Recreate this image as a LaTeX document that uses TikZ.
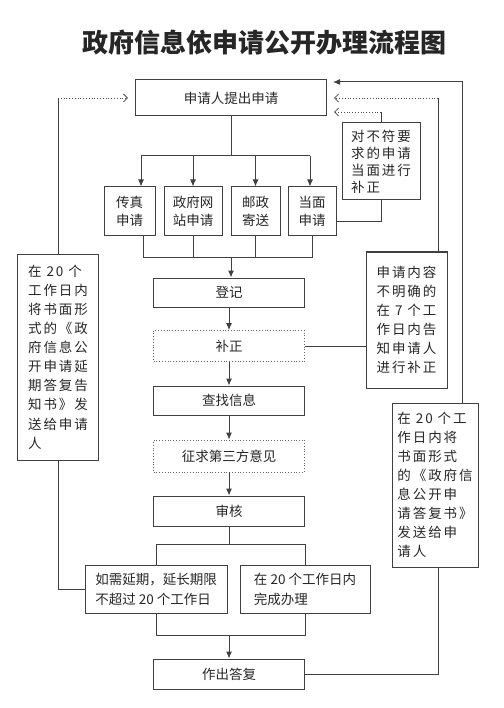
\documentclass[tikz,border=0pt]{standalone}
\usepackage{fontspec}
\setmainfont{Noto Sans CJK SC}
\newfontfamily\spaced[LetterSpace=14]{Noto Sans CJK SC}
\usetikzlibrary{arrows.meta}
\begin{document}
\begin{tikzpicture}[x=1pt,y=-1pt,
  every node/.style={inner sep=0pt, text=black!85},
  box/.style 2 args={draw=black!75, line width=1pt, minimum width=#1, minimum height=#2,
      font=\fontsize{13.5}{18}\selectfont, align=center},
  dbox/.style 2 args={draw=black!60, dotted, line width=0.8pt, minimum width=#1, minimum height=#2,
      font=\fontsize{13.5}{18}\selectfont, align=center},
  tall/.style={font=\spaced\fontsize{13.5}{19.1}\selectfont, align=left},
  ln/.style={draw=black!75, line width=1pt},
  arr/.style={ln, -{Latex[length=7pt,width=6pt]}},
  dotarr/.style={draw=black!70, dotted, line width=0.8pt, -{Straight Barb[length=4pt,width=8pt,line width=0.8pt]}, shorten >=7pt},
  solarr/.style={ln, -{Latex[length=7pt,width=6pt]}, shorten >=6pt}
]
\useasboundingbox (0,0) rectangle (503,708);

% title
\node[font=\fontsize{26}{26}\selectfont\bfseries] (title) at (264.5,43) {政府信息依申请公开办理流程图};

% top
\node[box={191pt}{36pt}] (apply) at (231,98) {申请人提出申请};
\node[box={51pt}{49pt}] (fax) at (129.5,211.5) {传真\\申请};
\node[box={58pt}{49pt}] (web) at (193,211.5) {政府网\\站申请};
\node[box={49pt}{49pt}] (post) at (255.5,211.5) {邮政\\寄送};
\node[box={48pt}{49pt}] (face) at (312,211.5) {当面\\申请};
\node[box={78pt}{77pt}, font=\spaced\fontsize{13.5}{17}\selectfont, align=left] (fix1) at (381,161.5) {对不符要\\求的申请\\当面进行\\补正};

% main column
\node[box={151pt}{29pt}] (reg) at (229,292.5) {登记};
\node[dbox={151pt}{31pt}] (bz) at (229,346) {补正};
\node[box={151pt}{29pt}] (find) at (229,400.5) {查找信息};
\node[dbox={151pt}{32pt}] (third) at (229,456) {征求第三方意见};
\node[box={151pt}{30pt}] (audit) at (229,511) {审核};
\node[box={142pt}{48pt}, font=\fontsize{13.5}{20}\selectfont, align=left] (ext) at (156,589) {如需延期，延长期限\\不超过 20 个工作日};
\node[box={130pt}{48pt}, font=\fontsize{13.5}{20}\selectfont, align=left] (done) at (305,589) {在 20 个工作日内\\完成办理};
\node[box={151pt}{30pt}] (reply) at (229,674) {作出答复};

% side boxes
\node[box={81pt}{206pt}, tall] (left) at (58,357) {在 20 个\\工作日内\\将书面形\\式的《政\\府信息公\\开申请延\\期答复告\\知书》发\\送给申请\\人};
\node[box={81pt}{136pt}, tall] (unclear) at (406.5,320) {申请内容\\不明确的\\在 7 个工\\作日内告\\知申请人\\进行补正};
\node[box={86pt}{164pt}, tall] (rlow) at (435,485) {在 20 个工\\作日内将\\书面形式\\的《政府信\\息公开申\\请答复书》\\发送给申\\请人};

% coordinates
\coordinate (bus) at (231,156);
\coordinate (fa) at ([xshift=11.5pt]fax.north);
\coordinate (fb) at ([xshift=13.5pt]fax.south);
\coordinate (fc) at ([xshift=-2pt]face.north);
\coordinate (j1) at (231,257);
\coordinate (j2) at (231,544);
\coordinate (j3) at (229,635);
\coordinate (ux) at (438,0);
\coordinate (rx) at (462,0);
\coordinate (a1) at ([yshift=16pt]apply.east);
\coordinate (a3) at ([yshift=-14pt]apply.east);

% top fan-out
\draw[ln] (apply.south) -- (bus);
\draw[ln] (fa |- bus) -- (fc |- bus);
\draw[arr] (fa |- bus) -- (fa);
\draw[arr] (web.north |- bus) -- (web.north);
\draw[arr] (post.north |- bus) -- (post.north);
\draw[arr] (fc |- bus) -- (fc);

% fan-in
\draw[ln] (fb) -- (fb |- j1) -- (face.south |- j1) -- (face.south);
\draw[ln] (web.south) -- (web.south |- j1);
\draw[ln] (post.south) -- (post.south |- j1);
\draw[arr] (j1) -- (j1 |- reg.north);

% main chain
\draw[arr] (reg.south) -- (bz.north);
\draw[arr] (bz.south) -- (find.north);
\draw[arr] (find.south) -- (third.north);
\draw[arr] (third.south) -- (audit.south |- third.south) -- (audit.north);
\draw[ln] (audit.south) -- (audit.south |- j2);
\draw[ln] (ext.north) |- (done.north |- j2) -- (done.north);
\draw[ln] (ext.south) |- (done.south |- j3) -- (done.south);
\draw[arr] (j3) -- (reply.north);

% right side
\draw[ln] (fix1.south) |- ([yshift=-10pt]face.east);
\draw[ln] (fix1.north) -- (fix1.north |- a3);
\draw[dotarr] (fix1.north |- a3) -- (a3);
\draw[ln] (bz.east) -- (bz.east -| unclear.west);
\draw[ln] (unclear.north -| ux) -- (ux |- apply.east);
\draw[dotarr] (ux |- apply.east) -- (apply.east);
\draw[ln] (reply.east) -| (rlow.south -| ux);
\draw[solarr] (rlow.north -| rx) |- (a1);

% left side
\draw[ln] (left.north) -- (left.north |- apply.west);
\draw[dotarr] (left.north |- apply.west) -- (apply.west);
\draw[ln] (left.south) |- (ext.west);
\end{tikzpicture}
\end{document}
